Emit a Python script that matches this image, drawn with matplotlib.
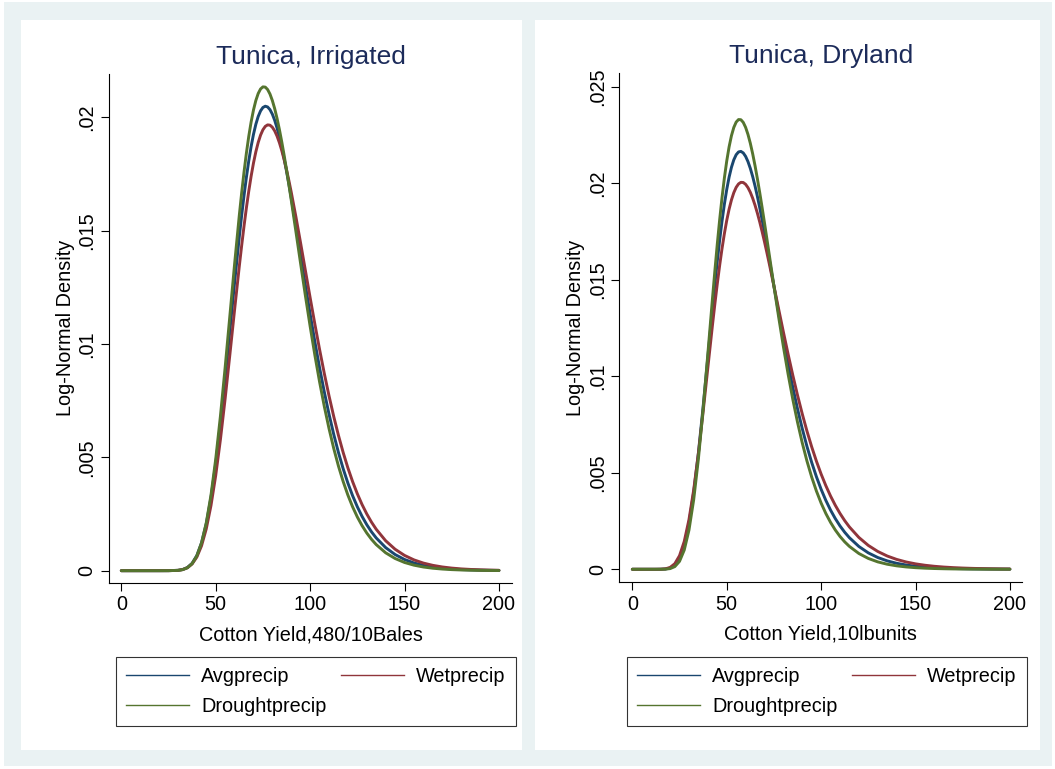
import numpy as np
import matplotlib
matplotlib.use("Agg")
import matplotlib.pyplot as plt
from matplotlib.patches import Rectangle
from matplotlib.lines import Line2D

plt.rcParams['font.family'] = ['Liberation Sans', 'DejaVu Sans']

# log-normal density curves, values are density x 1e6
x_irr = [0, 10, 20, 25, 30, 32.5, 35, 37.5, 40, 42.5, 45, 47.5, 50, 52.5, 55,
         57.5, 60, 62.5, 63.75, 65, 66.25, 67.5, 68.75, 70, 71.25, 72.5, 73.75,
         75, 76.25, 77.5, 78.75, 80, 81.25, 82.5, 83.75, 85, 86.25, 87.5, 88.75,
         90, 92.5, 95, 97.5, 100, 102.5, 105, 107.5, 110, 112.5, 115, 117.5, 120,
         122.5, 125, 127.5, 130, 132.5, 135, 140, 145, 150, 155, 160, 165, 170,
         175, 180, 185, 190, 195, 200]
irr_avg = [0, 0, 0, 1, 16, 52, 140, 325, 666, 1228, 2069, 3227, 4707, 6476, 8466,
           10580, 12706, 14730, 15671, 16547, 17351, 18073, 18706, 19246, 19689,
           20035, 20282, 20433, 20489, 20456, 20337, 20138, 19865, 19524, 19123,
           18668, 18167, 17625, 17051, 16449, 15191, 13893, 12594, 11324, 10106,
           8957, 7889, 6908, 6016, 5214, 4498, 3864, 3306, 2819, 2395, 2029, 1714,
           1444, 1018, 712, 494, 341, 234, 160, 109, 74, 50, 34, 23, 16, 10]
irr_wet = [0, 0, 0, 1, 15, 48, 128, 295, 599, 1098, 1844, 2873, 4194, 5784, 7588,
           9529, 11511, 13433, 14343, 15203, 16004, 16738, 17398, 17979, 18477,
           18888, 19212, 19449, 19599, 19666, 19652, 19561, 19398, 19168, 18876,
           18528, 18130, 17689, 17209, 16697, 15598, 14433, 13239, 12047, 10882,
           9762, 8704, 7715, 6803, 5969, 5213, 4534, 3929, 3392, 2918, 2503, 2141,
           1827, 1320, 946, 673, 476, 335, 235, 164, 114, 79, 55, 38, 26, 18]
irr_drought = [0, 0, 0, 1, 13, 46, 129, 309, 651, 1228, 2107, 3333, 4915, 6817,
               8963, 11241, 13523, 15677, 16669, 17586, 18418, 19155, 19790, 20319,
               20739, 21049, 21249, 21342, 21332, 21224, 21025, 20740, 20378, 19947,
               19454, 18908, 18316, 17688, 17029, 16348, 14945, 13525, 12128, 10783,
               9513, 8333, 7251, 6272, 5395, 4616, 3932, 3334, 2816, 2369, 1987,
               1661, 1384, 1150, 789, 537, 362, 243, 162, 108, 72, 47, 31, 21, 13,
               9, 6]

x_dry = [0, 5, 10, 12.5, 15, 17.5, 20, 22.5, 25, 27.5, 30, 32.5, 35, 37.5, 40,
         42.5, 43.75, 45, 46.25, 47.5, 48.75, 50, 51.25, 52.5, 53.75, 55, 56.25,
         57.5, 58.75, 60, 61.25, 62.5, 63.75, 65, 66.25, 67.5, 68.75, 70, 71.25,
         72.5, 75, 77.5, 80, 82.5, 85, 87.5, 90, 92.5, 95, 97.5, 100, 102.5, 105,
         107.5, 110, 112.5, 115, 120, 125, 130, 135, 140, 145, 150, 155, 160, 165,
         170, 175, 180, 185, 190, 195, 200]
dry_avg = [0, 0, 0, 0, 2, 13, 62, 215, 574, 1262, 2383, 3982, 6030, 8421, 10996,
           13570, 14800, 15967, 17050, 18038, 18917, 19679, 20319, 20832, 21220,
           21484, 21628, 21657, 21578, 21399, 21129, 20777, 20352, 19863, 19320,
           18731, 18105, 17450, 16774, 16082, 14680, 13285, 11930, 10640, 9431,
           8313, 7292, 6367, 5537, 4798, 4144, 3569, 3066, 2627, 2246, 1917, 1634,
           1181, 849, 609, 435, 310, 221, 157, 112, 80, 57, 40, 29, 20, 15, 10, 7, 5]
dry_wet = [0, 0, 0, 0, 4, 23, 94, 289, 705, 1442, 2571, 4108, 6006, 8164, 10445,
           12701, 13776, 14795, 15744, 16613, 17392, 18076, 18660, 19140, 19518,
           19794, 19971, 20053, 20044, 19951, 19780, 19537, 19230, 18866, 18451,
           17993, 17497, 16972, 16422, 15853, 14679, 13486, 12303, 11154, 10056,
           9020, 8054, 7162, 6346, 5604, 4933, 4332, 3794, 3316, 2893, 2519, 2190,
           1649, 1235, 923, 687, 511, 379, 281, 208, 154, 114, 85, 63, 47, 35, 26,
           19, 14]
dry_drought = [0, 0, 0, 0, 1, 6, 34, 137, 412, 997, 2030, 3603, 5724, 8301, 11163,
               14088, 15503, 16851, 18108, 19255, 20274, 21155, 21889, 22470, 22898,
               23176, 23307, 23299, 23161, 22904, 22538, 22077, 21531, 20913, 20235,
               19508, 18744, 17952, 17141, 16321, 14679, 13076, 11548, 10120, 8808,
               7619, 6553, 5609, 4779, 4056, 3429, 2890, 2429, 2036, 1702, 1420, 1183,
               817, 561, 383, 261, 178, 121, 82, 56, 38, 26, 17, 12, 8, 5, 4, 3, 2]

names = ['Avgprecip', 'Wetprecip', 'Droughtprecip']
colors = ['#1a476f', '#90353b', '#55752f']

W, H = 1055, 769


def box(x0, y0, x1, y1):
    # pixel box (top-left origin) -> figure fraction [l, b, w, h]
    return [x0 / W, 1 - y1 / H, (x1 - x0) / W, (y1 - y0) / H]


fig = plt.figure(figsize=(W / 100, H / 100), dpi=100)
fig.patch.set_facecolor('white')
b = box(4, 2, 1052, 766)
fig.add_artist(Rectangle((b[0], b[1]), b[2], b[3], transform=fig.transFigure,
                         facecolor='#eaf2f3', edgecolor='none', zorder=-3))
for p in [box(21, 20, 522, 750), box(535, 20, 1040, 750)]:
    fig.add_artist(Rectangle((p[0], p[1]), p[2], p[3], transform=fig.transFigure,
                             facecolor='white', edgecolor='none', zorder=-2))

panels = [
    (x_irr, [irr_avg, irr_wet, irr_drought], box(109, 74, 512, 582.7),
     (-6.5, 206.9), (-0.00053, 0.02191), [0, .005, .01, .015, .02],
     'Tunica, Irrigated', 'Cotton Yield,480/10Bales', box(115.7, 657.3, 505, 725)),
    (x_dry, [dry_avg, dry_wet, dry_drought], box(619.3, 73, 1022, 582),
     (-6.9, 206.4), (-0.00066, 0.02572), [0, .005, .01, .015, .02, .025],
     'Tunica, Dryland', 'Cotton Yield,10lbunits', box(626.7, 657, 1015, 724)),
]

for xv, series, pos, xl, yl, yt, title, xlab, lpos in panels:
    ax = fig.add_axes(pos)
    ax.patch.set_alpha(0)
    for i, ys in enumerate(series):
        ax.plot(xv, np.array(ys) / 1e6, color=colors[i], lw=2.1,
                solid_joinstyle='round', solid_capstyle='round')
    ax.set_xlim(*xl)
    ax.set_ylim(*yl)
    ax.set_xticks([0, 50, 100, 150, 200])
    ax.set_yticks(yt)
    ax.set_yticklabels(['0'] + [('%g' % v).lstrip('0') for v in yt[1:]],
                       rotation=90, va='center')
    for s in ['top', 'right']:
        ax.spines[s].set_visible(False)
    for s in ['left', 'bottom']:
        ax.spines[s].set_linewidth(0.8)
    ax.tick_params(direction='out', length=6, width=0.8, labelsize=14.3, pad=3)
    ax.set_title(title, fontsize=19, color='#1c2b5a', pad=7)
    ax.set_xlabel(xlab, fontsize=14.3, labelpad=8)
    ax.set_ylabel('Log-Normal Density', fontsize=14.3, labelpad=2)

    # stata fills the legend row-wise: Avg, Wet / Drought
    order = [0, 2, 1]
    handles = [Line2D([], [], color=colors[i], lw=1.0) for i in order]
    leg = fig.legend(handles, [names[i] for i in order], loc='upper left',
                     bbox_to_anchor=(lpos[0], lpos[1] + lpos[3]), ncol=2,
                     fontsize=14.3, frameon=True, fancybox=False, edgecolor='black',
                     borderpad=0.5, labelspacing=0.55, handlelength=3.2,
                     handletextpad=0.6, columnspacing=0.72, borderaxespad=0)
    leg.get_frame().set_linewidth(0.8)

fig.savefig('out.png', dpi=100)
